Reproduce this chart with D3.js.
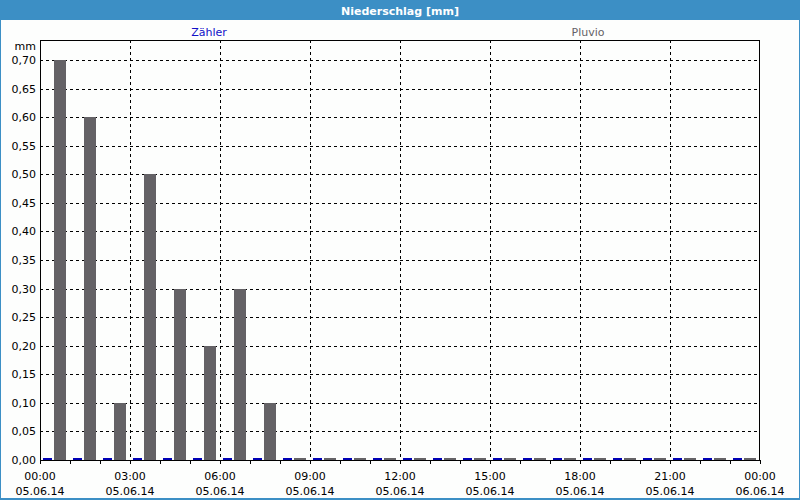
<!DOCTYPE html>
<html><head><meta charset="utf-8">
<script src="https://cdn.jsdelivr.net/npm/d3@7/dist/d3.min.js"></script>
<style>
html,body{margin:0;padding:0;background:#fff;}
svg{display:block;}
text{font-family:"DejaVu Sans",sans-serif;font-size:11px;}
</style></head><body>
<svg id="c" width="800" height="500"></svg>
<script>
const title = "Niederschlag [mm]";
const seriesNames = ["Zähler", "Pluvio"];
const hours = d3.range(0, 24);
const zaehler = [0,0,0,0,0,0,0,0,0,0,0,0,0,0,0,0,0,0,0,0,0,0,0,0];
const pluvio = [0.70,0.60,0.10,0.50,0.30,0.20,0.30,0.10,0,0,0,0,0,0,0,0,0,0,0,0,0,0,0,0];
const yTicks = [0,0.05,0.10,0.15,0.20,0.25,0.30,0.35,0.40,0.45,0.50,0.55,0.60,0.65,0.70];
const xTickHours = [0,3,6,9,12,15,18,21,24];
const xTimeLabels = ["00:00","03:00","06:00","09:00","12:00","15:00","18:00","21:00","00:00"];
const xDateLabels = ["05.06.14","05.06.14","05.06.14","05.06.14","05.06.14","05.06.14","05.06.14","05.06.14","06.06.14"];

const svg = d3.select("#c");
const W = 800, H = 500;
const L = 40, R = 760, T = 40, B = 460;

svg.append("rect").attr("x",0).attr("y",0).attr("width",W).attr("height",H).attr("fill","#3c8fc5");
svg.append("rect").attr("x",1).attr("y",20).attr("width",W-2).attr("height",H-22).attr("fill","#fdfefd");
svg.append("text").attr("x",400).attr("y",15).attr("text-anchor","middle")
  .attr("fill","#fff").attr("font-weight","bold").text(title);

const x = d3.scaleLinear().domain([0,24]).range([L,R]);
const y = d3.scaleLinear().domain([0,0.70]).range([B,60]);
const colors = {"Zähler":"#0000b4","Pluvio":"#646266"};

// legend
svg.append("text").attr("x",209).attr("y",36).attr("text-anchor","middle").attr("fill","#1010c8").text(seriesNames[0]);
svg.append("text").attr("x",588).attr("y",36).attr("text-anchor","middle").attr("fill","#646266").text(seriesNames[1]);

// grid
const g = svg.append("g");
yTicks.forEach(v=>{
  if (v===0) return;
  const yy = Math.round(y(v))+0.5;
  g.append("line").attr("x1",L).attr("x2",R).attr("y1",yy).attr("y2",yy)
   .attr("stroke","#000").attr("stroke-dasharray","3,3");
});
xTickHours.forEach(h=>{
  if (h===0||h===24) return;
  const xx = Math.round(x(h))+0.5;
  g.append("line").attr("x1",xx).attr("x2",xx).attr("y1",T).attr("y2",B)
   .attr("stroke","#000").attr("stroke-dasharray","3,3");
});

// bars
const barH = v => Math.max(2, Math.round(y(0)-y(v)));
svg.append("g").selectAll("rect").data(hours).join("rect")
  .attr("x",h=>Math.round(x(h))+3).attr("width",9)
  .attr("y",h=>B-barH(zaehler[h])).attr("height",h=>barH(zaehler[h]))
  .attr("fill",colors["Zähler"]);
svg.append("g").selectAll("rect").data(hours).join("rect")
  .attr("x",h=>Math.round(x(h))+14).attr("width",12)
  .attr("y",h=>B-barH(pluvio[h])).attr("height",h=>barH(pluvio[h]))
  .attr("fill",colors["Pluvio"]);

// frame
svg.append("rect").attr("x",L+0.5).attr("y",T+0.5).attr("width",R-L-1).attr("height",B-T)
  .attr("fill","none").attr("stroke","#000");

// x hourly ticks
svg.append("g").selectAll("line").data(d3.range(0,25)).join("line")
  .attr("x1",h=>Math.round(x(h))+0.5).attr("x2",h=>Math.round(x(h))+0.5)
  .attr("y1",B).attr("y2",B+4).attr("stroke","#000");

// y labels
yTicks.forEach(v=>{
  svg.append("text").attr("x",36).attr("y",y(v)+4).attr("text-anchor","end").attr("fill","#000")
    .text(d3.format(".2f")(v).replace(".",","));
});
svg.append("text").attr("x",36).attr("y",50).attr("text-anchor","end").attr("fill","#000").text("mm");

// x labels
xTickHours.forEach((h,i)=>{
  svg.append("text").attr("x",x(h)).attr("y",480).attr("text-anchor","middle").attr("fill","#000").text(xTimeLabels[i]);
  svg.append("text").attr("x",x(h)).attr("y",495).attr("text-anchor","middle").attr("fill","#000").text(xDateLabels[i]);
});
</script>
</body></html>
